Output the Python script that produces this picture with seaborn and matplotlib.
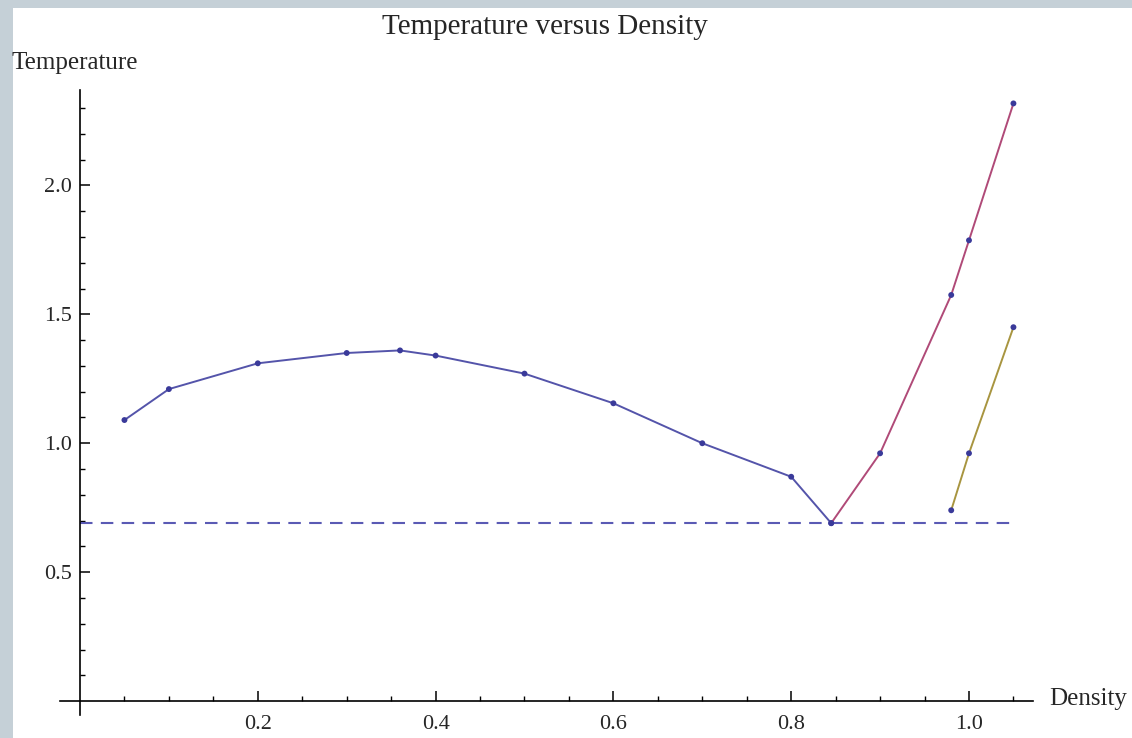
import numpy as np
import pandas as pd
import matplotlib
matplotlib.use("Agg")
import matplotlib.pyplot as plt
from matplotlib.patches import Rectangle
import seaborn as sns

# ---- data ----
blue_x = [0.05, 0.1, 0.2, 0.3, 0.36, 0.4, 0.5, 0.6, 0.7, 0.8, 0.845]
blue_y = [1.09, 1.21, 1.31, 1.35, 1.36, 1.34, 1.27, 1.155, 1.0, 0.87, 0.69]
red_x = [0.845, 0.9, 0.98, 1.0, 1.05]
red_y = [0.69, 0.961, 1.575, 1.787, 2.318]
yel_x = [0.98, 1.0, 1.05]
yel_y = [0.74, 0.961, 1.45]
dash_x = [0.0, 1.05]
dash_y = [0.69, 0.69]
x_major = [0.2, 0.4, 0.6, 0.8, 1.0]
x_labels = ["0.2", "0.4", "0.6", "0.8", "1.0"]
y_major = [0.5, 1.0, 1.5, 2.0]
y_labels = ["0.5", "1.0", "1.5", "2.0"]
title = "Temperature versus Density"
xlabel = "Density"
ylabel = "Temperature"

sns.set_style("white")
plt.rcParams['font.family'] = ['Liberation Serif', 'DejaVu Serif']

W, H = 1132, 738
fig = plt.figure(figsize=(W / 100, H / 100), dpi=100)
fig.patch.set_facecolor('#c5d0d7')
fig.add_artist(Rectangle((13 / W, 0), 1 - 13 / W, 1 - 8 / H,
                         transform=fig.transFigure, facecolor='white',
                         edgecolor='none', zorder=0))

left, right, top, bottom = 60, 1033, 90, 715
ax = fig.add_axes([left / W, 1 - bottom / H, (right - left) / W, (bottom - top) / H])
ax.set_facecolor('none')

c_blue_line = '#5454aa'
c_red_line = '#b04a78'
c_yel_line = '#a89540'
c_pt = '#3a3a9a'

df_b = pd.DataFrame({'x': blue_x, 'y': blue_y})
df_r = pd.DataFrame({'x': red_x, 'y': red_y})
df_yl = pd.DataFrame({'x': yel_x, 'y': yel_y})
df_d = pd.DataFrame({'x': dash_x, 'y': dash_y})

sns.lineplot(data=df_d, x='x', y='y', ax=ax, color='#5a5ab4', lw=1.5,
             linestyle=(0, (6, 4)), estimator=None, sort=False)
sns.lineplot(data=df_b, x='x', y='y', ax=ax, color=c_blue_line, lw=1.4,
             estimator=None, sort=False)
sns.lineplot(data=df_r, x='x', y='y', ax=ax, color=c_red_line, lw=1.4,
             estimator=None, sort=False)
sns.lineplot(data=df_yl, x='x', y='y', ax=ax, color=c_yel_line, lw=1.4,
             estimator=None, sort=False)
for d in (df_b, df_r, df_yl):
    sns.scatterplot(data=d, x='x', y='y', ax=ax, color=c_pt, s=18,
                    edgecolor='none', zorder=5)

ax.set_xlim(-0.0225, 1.072)
ax.set_ylim(-0.054, 2.37)

for s in ('top', 'right'):
    ax.spines[s].set_visible(False)
ax.spines['left'].set_position(('data', 0))
ax.spines['bottom'].set_position(('data', 0))
for s in ('left', 'bottom'):
    ax.spines[s].set_color('black')
    ax.spines[s].set_linewidth(1.2)

ax.set_xticks(x_major)
ax.set_xticklabels(x_labels)
ax.set_yticks(y_major)
ax.set_yticklabels(y_labels)
x_minor = [v for v in np.round(np.arange(0.05, 1.051, 0.05), 2) if v not in x_major]
y_minor = [v for v in np.round(np.arange(0.1, 2.31, 0.1), 2) if v not in y_major]
ax.set_xticks(x_minor, minor=True)
ax.set_yticks(y_minor, minor=True)
ax.tick_params(axis='both', which='both', bottom=True, left=True, top=False, right=False)
ax.tick_params(axis='both', which='major', direction='in', length=7, width=1.1,
               labelsize=16, color='black')
ax.tick_params(axis='both', which='minor', direction='in', length=3.8, width=1.0,
               color='black')
ax.tick_params(axis='x', which='major', pad=10)
ax.tick_params(axis='y', which='major', pad=6)
ax.set_xlabel('')
ax.set_ylabel('')

fig.text(545 / W, 1 - 27 / H, title, ha='center', va='center', fontsize=21)
fig.text(12 / W, 1 - 63 / H, ylabel, ha='left', va='center', fontsize=18)
fig.text(1049 / W, 1 - 699 / H, xlabel, ha='left', va='center', fontsize=18)

fig.savefig('out.png', dpi=100, facecolor=fig.get_facecolor())
